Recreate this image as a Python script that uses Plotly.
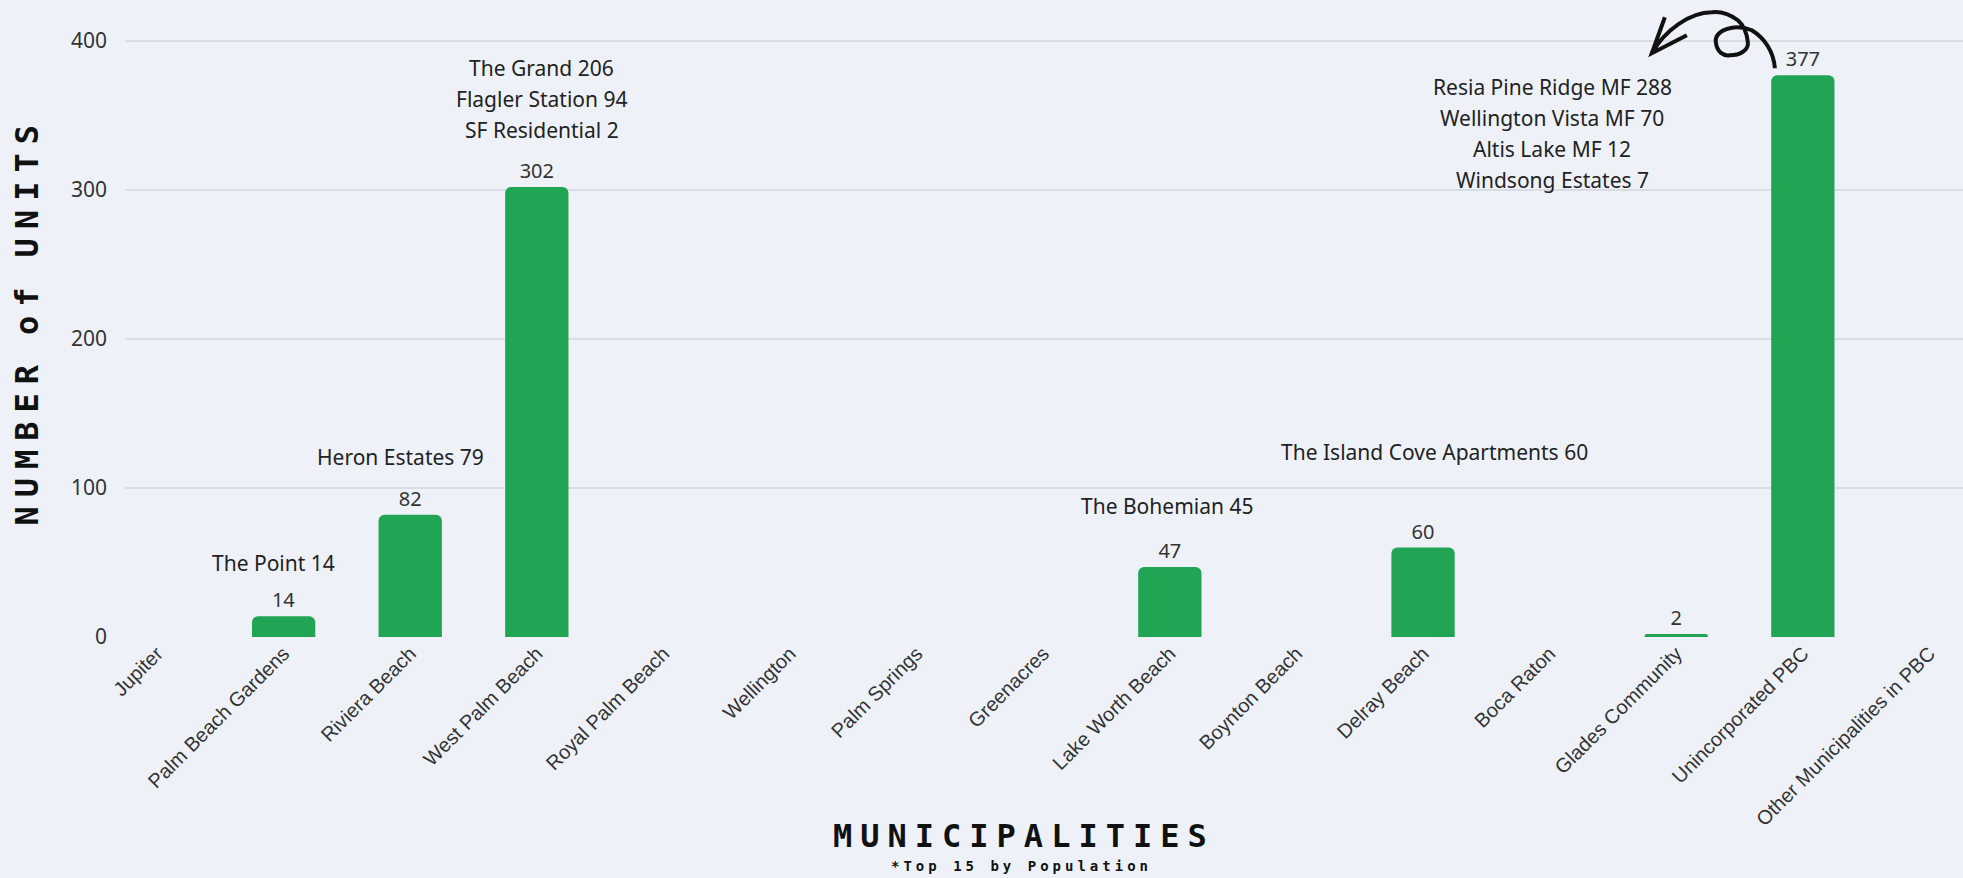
import plotly.graph_objects as go

municipalities = [
    "Jupiter", "Palm Beach Gardens", "Riviera Beach", "West Palm Beach",
    "Royal Palm Beach", "Wellington", "Palm Springs", "Greenacres",
    "Lake Worth Beach", "Boynton Beach", "Delray Beach", "Boca Raton",
    "Glades Community", "Unincorporated PBC", "Other Municipalities in PBC",
]
units = [0, 14, 82, 302, 0, 0, 0, 0, 47, 0, 60, 0, 2, 377, 0]

# developments behind each bar
note_places = ["Palm Beach Gardens", "Riviera Beach", "West Palm Beach",
               "Lake Worth Beach", "Delray Beach", "Unincorporated PBC"]
note_lines = [
    ["The Point 14"],
    ["Heron Estates 79"],
    ["The Grand 206", "Flagler Station 94", "SF Residential 2"],
    ["The Bohemian 45"],
    ["The Island Cove Apartments 60"],
    ["Resia Pine Ridge MF 288", "Wellington Vista MF 70",
     "Altis Lake MF 12", "Windsong Estates 7"],
]
# callout placement: offset from the bar (categories) and y of first line
note_dx = [-0.08, -0.08, 0.04, -0.02, 0.09, -1.98]
note_y = [50, 121, 382, 88, 124, 369]

BG = "#eef2f8"
GREEN = "#22a455"
TITLE_FONT = "DejaVu Sans Mono"


def tracked(s, ls, ws):
    # letter-spacing through css on spans; ws = gap after each word
    words = s.split(" ")
    out = ""
    for i, w in enumerate(words):
        tail = 0 if i == len(words) - 1 else ws
        out += f'<span style="letter-spacing:{ls}px">{w[:-1]}</span>'
        out += f'<span style="letter-spacing:{tail}px">{w[-1]}</span>'
    return "<b>" + out + "</b>"


fig = go.Figure()
fig.add_trace(go.Bar(
    x=municipalities,
    y=units,
    text=[str(v) if v > 0 else "" for v in units],
    textposition="outside",
    textfont=dict(family="Noto Sans", size=20, color="#333333"),
    cliponaxis=False,
    marker=dict(color=GREEN, cornerradius=6, line_width=0),
    hoverinfo="x+y",
))

anns = []
for place, lines, dx, y0 in zip(note_places, note_lines, note_dx, note_y):
    idx = municipalities.index(place)
    for i, line in enumerate(lines):
        anns.append(dict(
            x=idx + dx, y=y0, xref="x", yref="y", text=line,
            showarrow=False, yshift=-31 * i, xanchor="center", yanchor="middle",
            font=dict(family="Noto Sans", size=21, color="#222222"),
        ))

# axis titles
anns.append(dict(
    x=0, y=0.5, xref="paper", yref="paper", xshift=-99, yshift=-7,
    xanchor="center", yanchor="middle",
    textangle=-90, text=tracked("NUMBER of UNITS", 9, 30), showarrow=False,
    font=dict(family=TITLE_FONT, size=32, color="#111111"),
))
anns.append(dict(
    x=0.487, y=0, xref="paper", yref="paper", yshift=-199,
    xanchor="center", yanchor="middle",
    text=tracked("MUNICIPALITIES", 8, 0), showarrow=False,
    font=dict(family=TITLE_FONT, size=32, color="#111111"),
))
anns.append(dict(
    x=0.4875, y=0, xref="paper", yref="paper", yshift=-229,
    xanchor="center", yanchor="middle",
    text='<b><span style="letter-spacing:4px">*Top 15 by Population</span></b>',
    showarrow=False,
    font=dict(family=TITLE_FONT, size=14, color="#111111"),
))

# hand-drawn looping arrow next to the 377 bar, pixel offsets from bar top
arrow = (
    "M -28 7 C -29 23 -38 37 -51 45 C -58 48 -66 49 -73 47 "
    "C -83 45 -88 39 -87 33 C -86 23 -79 19 -73 20 "
    "C -63 20 -54 25 -55 33 C -56 42 -59 50 -65 55 "
    "C -73 61 -83 64 -91 63 C -113 63 -138 45 -151 22 "
    "M -138 58 L -151 22 L -116 40"
)
shapes = [dict(
    type="path", xref="x", yref="y", xsizemode="pixel", ysizemode="pixel",
    xanchor="Unincorporated PBC", yanchor=377, path=arrow,
    line=dict(color="#111111", width=4),
)]

fig.update_layout(
    width=1963, height=878,
    margin=dict(l=125, r=0, t=0, b=241),
    paper_bgcolor=BG, plot_bgcolor=BG,
    showlegend=False,
    bargap=0.5,
    annotations=anns,
    shapes=shapes,
    xaxis=dict(
        type="category", range=[-0.253, 14.265], tickangle=-45,
        tickfont=dict(family="Liberation Sans", size=20, color="#333333"),
        showgrid=False, showline=False, ticks="", zeroline=False,
    ),
    yaxis=dict(
        range=[0, 427.5], tickvals=[0, 100, 200, 300, 400],
        tickfont=dict(family="Noto Sans", size=21, color="#333333"),
        gridcolor="#d8dde5", gridwidth=1.5, zeroline=False,
        showline=False, ticklabelstandoff=17,
    ),
)

fig.write_html("out.html", config={"displayModeBar": False},
               post_script="document.body.style.margin='0';document.body.style.overflow='hidden';")
